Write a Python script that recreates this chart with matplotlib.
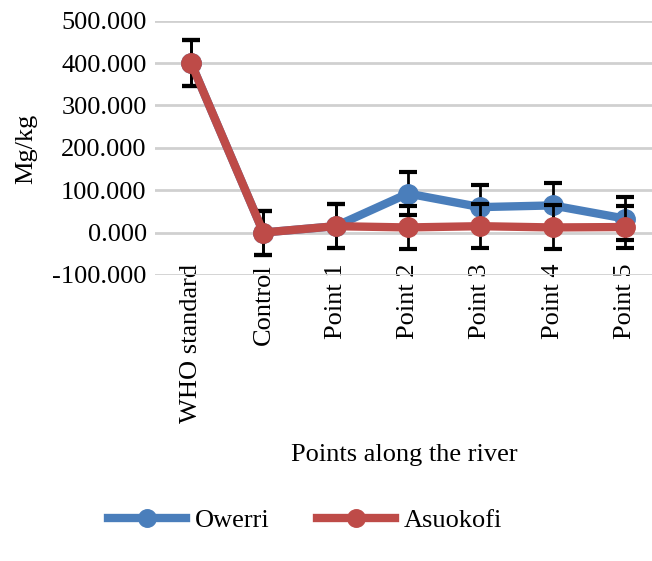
import matplotlib
matplotlib.use('Agg')
import matplotlib.pyplot as plt
import numpy as np

categories = ['WHO standard', 'Control', 'Point 1', 'Point 2', 'Point 3', 'Point 4', 'Point 5']
owerri = [400, 0, 15, 92, 60, 64, 33]
owerri_err = [55, 52, 52, 50, 52, 52, 50]
asuokofi = [400, 0, 15, 12, 15, 12, 13]
asuokofi_err = [55, 52, 52, 50, 52, 52, 50]
yticks = [-100, 0, 100, 200, 300, 400, 500]

plt.rcParams['font.family'] = ['Liberation Serif', 'DejaVu Serif']

blue = '#4a7ebb'
red = '#be4b48'

fig = plt.figure(figsize=(6.52, 5.61), dpi=100)
ax = fig.add_axes([0.2377, 0.51, 0.7623, 0.453])

x = np.arange(len(categories))
for vals, errs, col, name, z in [(owerri, owerri_err, blue, 'Owerri', 3),
                                 (asuokofi, asuokofi_err, red, 'Asuokofi', 4)]:
    ax.errorbar(x, vals, yerr=errs, fmt='none', ecolor='black', elinewidth=2,
                capsize=6.5, capthick=3, zorder=z)
    ax.plot(x, vals, color=col, linewidth=6, marker='o', markersize=14,
            label=name, zorder=z + 0.5)

ax.set_xlim(-0.5, 6.376)
ax.set_ylim(-100, 500)
ax.set_yticks(yticks)
ax.set_yticklabels([f'{v:.3f}' for v in yticks], fontsize=19)
ax.set_xticks(x)
ax.set_xticklabels(categories, rotation=90, fontsize=19)
ax.tick_params(axis='y', length=0, pad=6)
ax.tick_params(axis='x', length=0, pad=-8)
ax.grid(axis='y', color='#d0d0d0', linewidth=2)
ax.set_axisbelow(True)
for s in ax.spines.values():
    s.set_visible(False)

fig.text(0.04, 0.735, 'Mg/kg', rotation=90, fontsize=19, ha='center', va='center')
fig.text(0.62, 0.189, 'Points along the river', fontsize=19, ha='center', va='center')

fig.legend(loc='center', bbox_to_anchor=(0.468, 0.072), ncol=2, frameon=False,
           fontsize=19, handlelength=2.95, columnspacing=1.8, handletextpad=0.35,
           markerscale=0.9)

fig.savefig('out.png', dpi=100)
